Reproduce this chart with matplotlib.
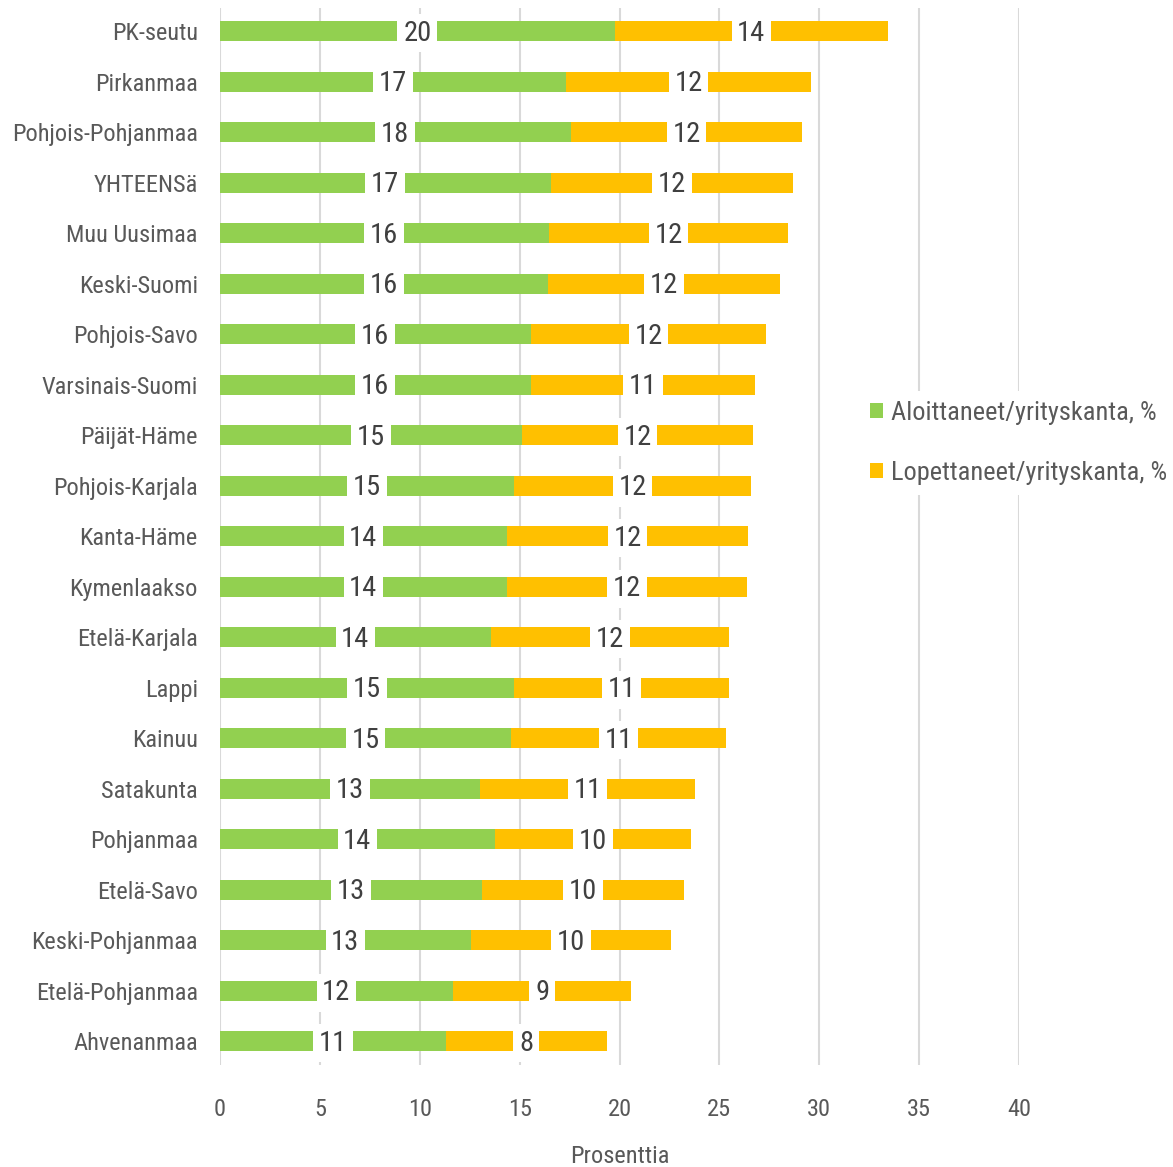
import matplotlib
matplotlib.use('Agg')
import matplotlib.pyplot as plt
from matplotlib.patches import Patch
import numpy as np

plt.rcParams['font.family'] = ['Roboto Condensed', 'Roboto', 'DejaVu Sans']

regions = ['PK-seutu', 'Pirkanmaa', 'Pohjois-Pohjanmaa', 'YHTEENSä', 'Muu Uusimaa',
           'Keski-Suomi', 'Pohjois-Savo', 'Varsinais-Suomi', 'Päijät-Häme',
           'Pohjois-Karjala', 'Kanta-Häme', 'Kymenlaakso', 'Etelä-Karjala', 'Lappi',
           'Kainuu', 'Satakunta', 'Pohjanmaa', 'Etelä-Savo', 'Keski-Pohjanmaa',
           'Etelä-Pohjanmaa', 'Ahvenanmaa']

# aloittaneet / yrityskanta, %
started = [19.75, 17.3, 17.55, 16.55, 16.45, 16.4, 15.55, 15.55, 15.1, 14.7, 14.35,
           14.35, 13.55, 14.7, 14.55, 13.0, 13.75, 13.1, 12.55, 11.65, 11.3]
# lopettaneet / yrityskanta, %
ended = [13.7, 12.3, 11.6, 12.15, 12.0, 11.65, 11.8, 11.25, 11.6, 11.9, 12.1,
         12.05, 11.95, 10.8, 10.8, 10.8, 9.85, 10.15, 10.05, 8.95, 8.05]

series_names = ['Aloittaneet/yrityskanta, %', 'Lopettaneet/yrityskanta, %']
colors = ['#92D050', '#FFC000']
xticks = [0, 5, 10, 15, 20, 25, 30, 35, 40]

fig = plt.figure(figsize=(11.73, 11.67), dpi=100)
ax = fig.add_axes([220/1173, 1-1065/1167, 799/1173, 1057/1167])

y = np.arange(len(regions))
started = np.array(started)
ended = np.array(ended)

ax.barh(y, started, height=0.4, color=colors[0], zorder=2)
ax.barh(y, ended, left=started, height=0.4, color=colors[1], zorder=2)

# value labels with white box in the middle of each segment
for i in range(len(regions)):
    for mid, val in [(started[i]/2, started[i]), (started[i] + ended[i]/2, ended[i])]:
        ax.text(mid, i + 0.04, '{0:.0f}'.format(val), ha='center', va='center',
                fontsize=20.5, color='#404040', zorder=4,
                bbox=dict(facecolor='white', edgecolor='none', pad=4))

ax.set_xlim(0, 40)
ax.set_ylim(20.47, -0.46)
ax.set_xticks(xticks)
ax.set_yticks(y)
ax.set_yticklabels(regions)
ax.tick_params(axis='y', length=0, pad=16, labelsize=17.6, labelcolor='#595959')
ax.tick_params(axis='x', length=0, pad=24, labelsize=17.6, labelcolor='#595959')
ax.grid(axis='x', color='#d9d9d9', linewidth=1.5, zorder=0)
ax.set_axisbelow(True)
for s in ax.spines.values():
    s.set_visible(False)

ax.set_xlabel('Prosenttia', fontsize=17.6, color='#595959', labelpad=17)

handles = [Patch(facecolor=c, edgecolor='none') for c in colors]
leg = fig.legend(handles, series_names, loc='center left',
                 bbox_to_anchor=(846/1173, 1-443/1167), fontsize=19,
                 handlelength=0.5, handleheight=0.5, handletextpad=0.3,
                 labelspacing=1.35, frameon=True, facecolor='white',
                 edgecolor='none', framealpha=1, borderpad=0.4)
for t in leg.get_texts():
    t.set_color('#595959')

fig.savefig('out.png', dpi=100)
